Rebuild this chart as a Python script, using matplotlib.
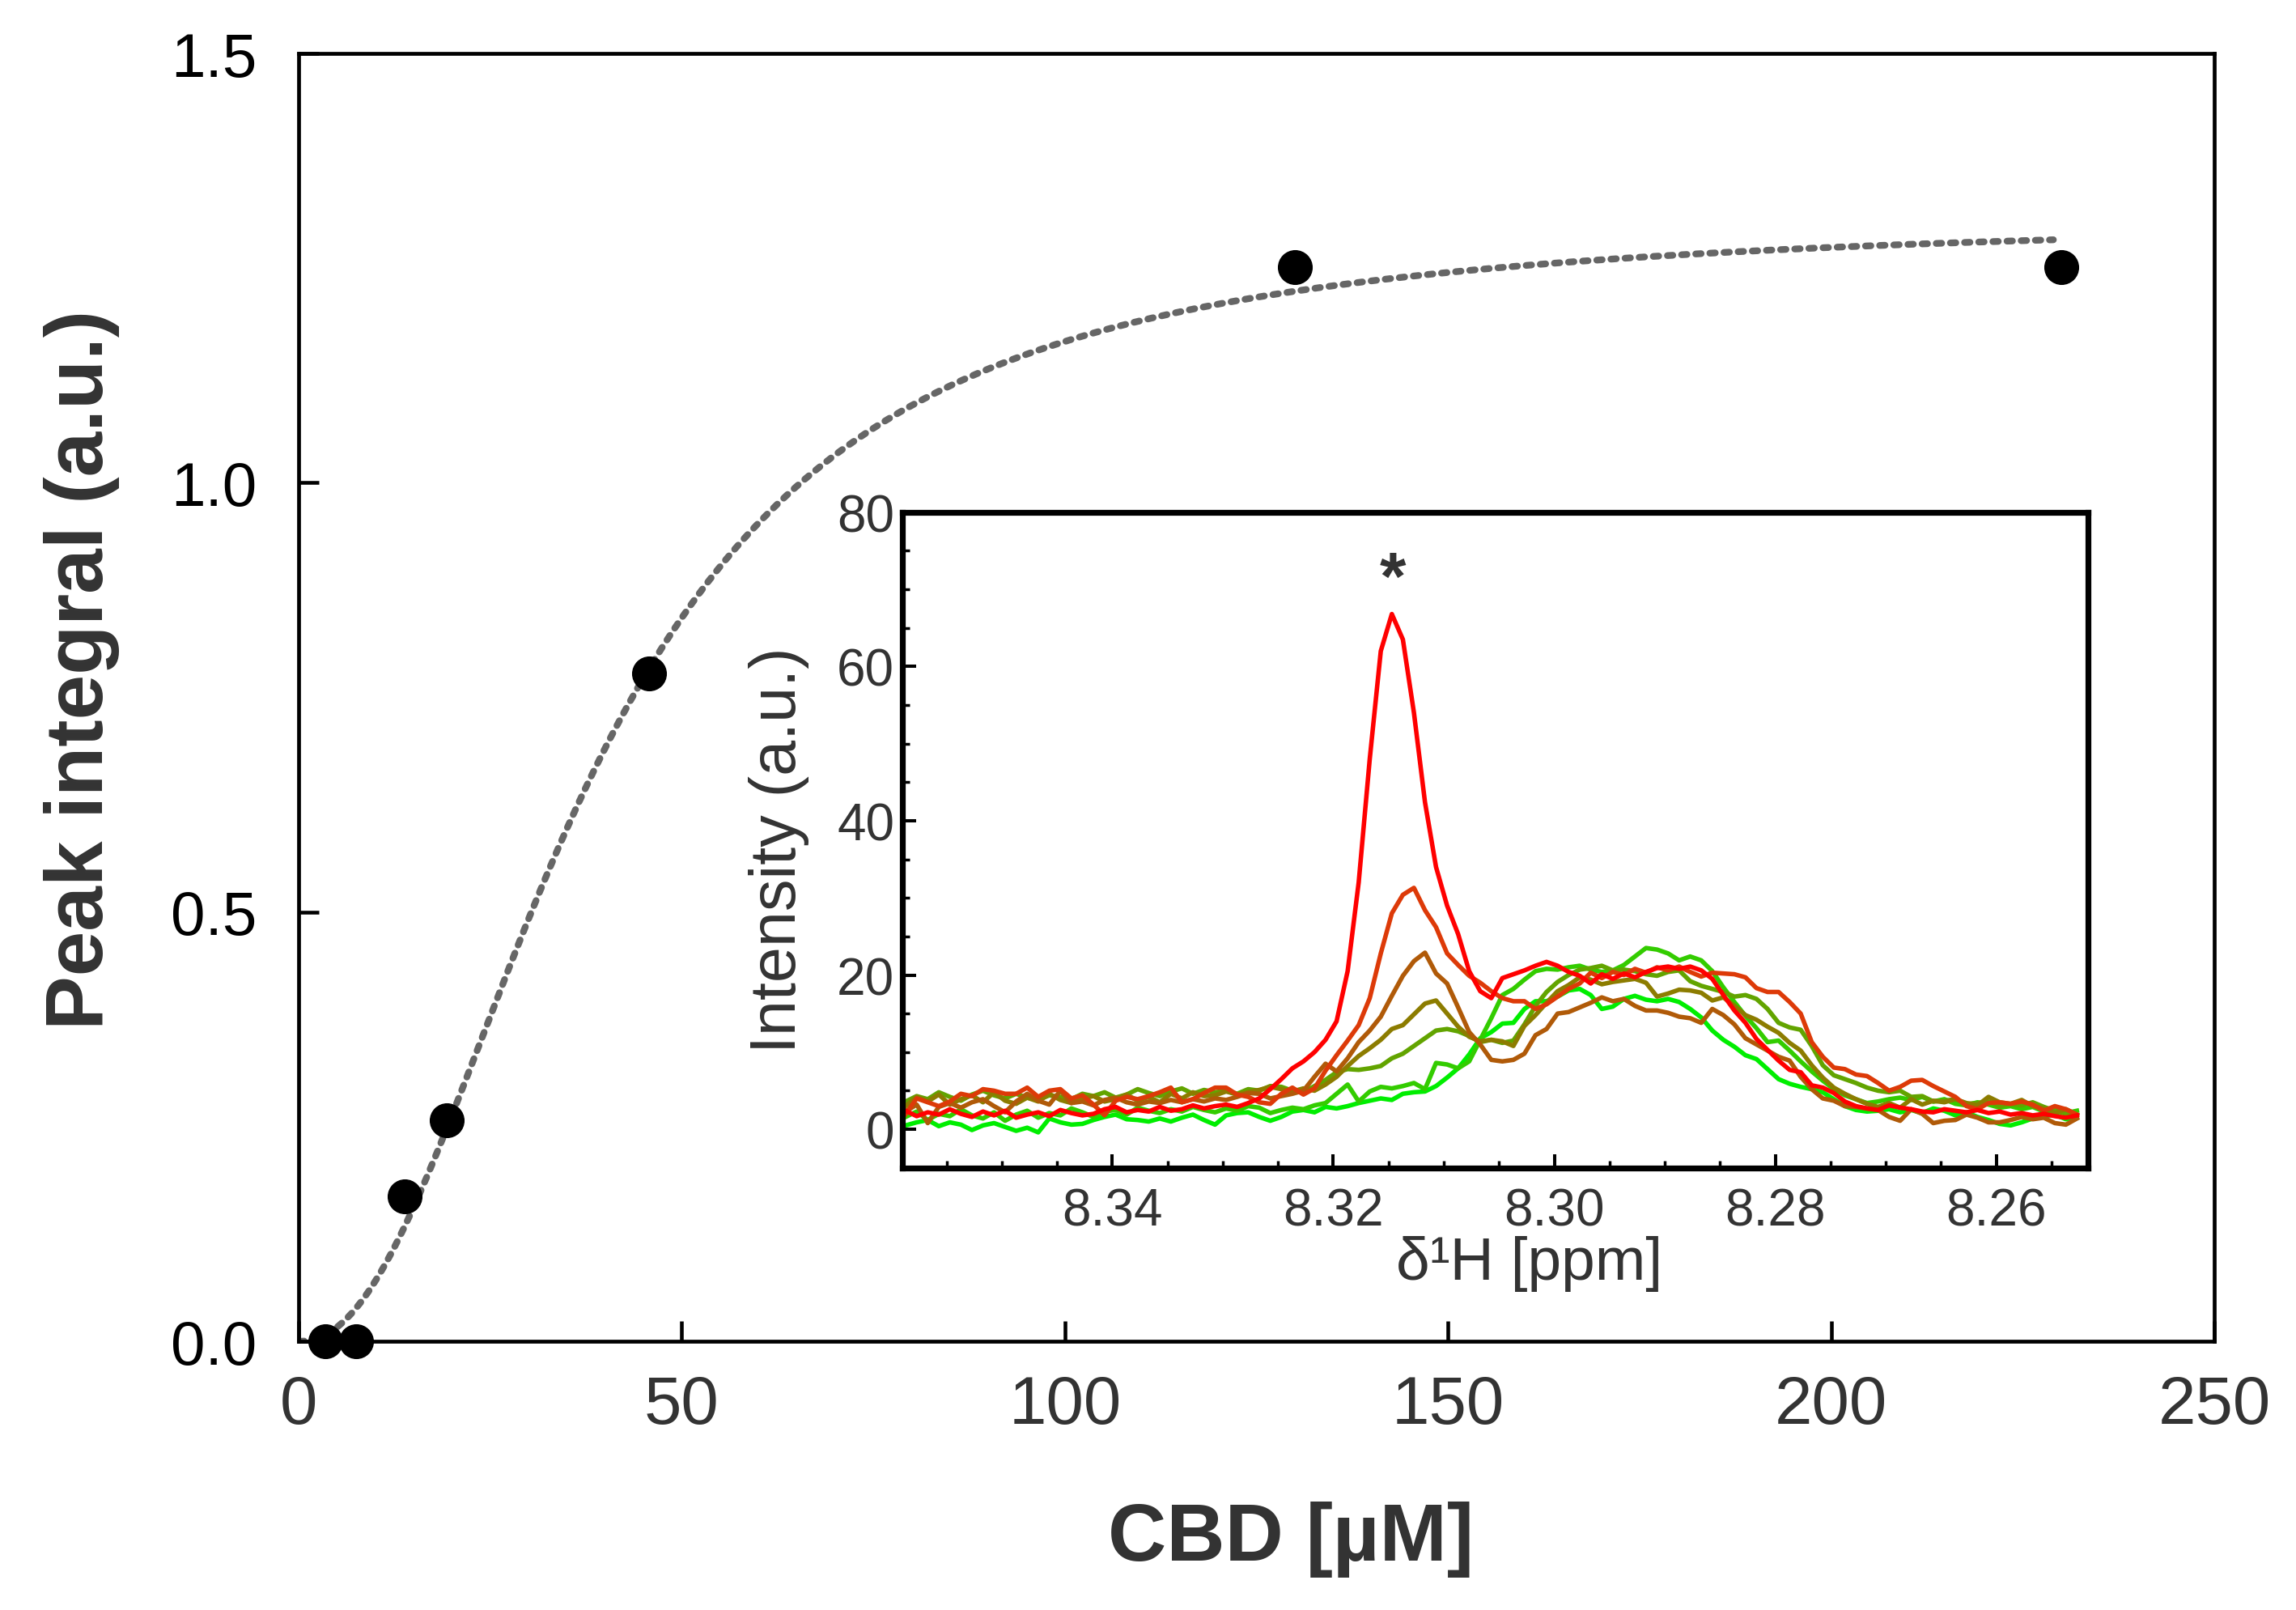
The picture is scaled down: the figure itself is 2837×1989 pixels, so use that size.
import matplotlib
matplotlib.use('Agg')
import matplotlib.pyplot as plt
import numpy as np
from matplotlib.ticker import MultipleLocator, FormatStrFormatter

plt.rcParams['font.family'] = ['Liberation Sans', 'DejaVu Sans']

# titration points (main panel)
cbd_uM = [3.5, 7.5, 13.8, 19.3, 45.7, 130.0, 230.0]
peak_integral = [0.0, 0.0, 0.169, 0.257, 0.778, 1.251, 1.251]

# Hill fit parameters
fit_vmax = 1.31
fit_k = 38.0
fit_n = 2.15
fit_xmax = 229.0

# inset spectra, sampled every 0.001 ppm from 8.3587 down
ppm = np.round(8.3587 - 0.001 * np.arange(107), 4)

spec_red = [
    2.4, 1.7, 2.2, 1.9, 2.6, 2.0, 1.6, 2.3, 1.8, 2.4,
    1.5, 1.9, 2.2, 1.7, 2.5, 2.1, 1.8, 2.0, 2.6, 2.9,
    2.2, 2.5, 2.3, 2.9, 2.4, 2.6, 3.1, 2.7, 3.0, 3.2,
    2.9, 3.4, 4.0, 5.2, 6.5, 7.9, 8.8, 10.0, 11.6, 14.0,
    20.5, 32.0, 48.0, 62.0, 66.8, 63.5, 54.0, 42.4, 34.0, 29.0,
    25.3, 20.5, 17.9, 17.0, 19.6, 20.1, 20.6, 21.2, 21.7, 21.2,
    20.4, 19.9, 18.9, 20.1, 19.5, 20.2, 19.7, 20.4, 20.9, 21.1,
    20.8, 21.1, 20.6, 19.5, 17.4, 15.4, 13.8, 11.7, 10.3, 8.9,
    7.7, 7.4, 5.7, 5.4, 4.7, 3.6, 3.0, 2.7, 2.5, 3.1,
    2.8, 2.6, 2.3, 2.2, 2.6, 2.4, 2.2, 2.5, 2.1, 2.3,
    1.9, 2.1, 1.8, 2.0, 1.7, 1.5, 1.8]
spec_redorange = [
    2.0, 4.0, 3.5, 3.0, 3.6, 4.6, 4.3, 5.2, 5.0, 4.6,
    4.6, 5.4, 4.2, 5.0, 5.2, 4.0, 4.4, 3.2, 1.8, 3.7,
    4.2, 3.9, 4.3, 4.8, 5.4, 3.5, 3.9, 4.7, 5.4, 5.4,
    4.5, 4.2, 3.5, 3.3, 4.6, 5.4, 4.5, 5.3, 7.6, 9.6,
    11.5, 13.5, 17.0, 22.8, 28.0, 30.4, 31.3, 28.4, 26.2, 22.8,
    21.3, 19.9, 19.0, 17.9, 17.0, 16.6, 16.6, 15.6, 16.2, 17.2,
    18.2, 18.9, 20.3, 19.6, 20.4, 20.0, 20.8, 20.3, 21.0, 20.6,
    21.1, 20.4, 19.8, 20.3, 20.2, 20.1, 19.7, 18.3, 17.8, 17.8,
    16.5, 15.0, 11.3, 9.4, 8.0, 7.8, 7.1, 6.9, 6.0, 5.0,
    5.5, 6.3, 6.4, 5.6, 4.9, 4.2, 3.0, 2.6, 3.4, 3.5,
    3.3, 3.6, 3.2, 2.4, 3.0, 2.6, 1.9]
spec_brown = [
    2.3, 3.2, 0.8, 2.9, 3.4, 2.8, 3.5, 3.9, 3.0, 2.2,
    3.6, 4.6, 3.7, 3.2, 5.0, 3.4, 3.6, 3.1, 3.8, 4.1,
    3.5, 3.2, 3.6, 3.4, 3.8, 3.5, 3.9, 3.6, 4.0, 3.8,
    4.2, 4.7, 4.6, 4.0, 4.3, 4.6, 5.0, 6.8, 8.5, 7.5,
    9.2, 11.3, 12.8, 14.6, 17.3, 19.9, 21.8, 22.9, 20.2, 18.9,
    15.8, 12.6, 11.0, 9.0, 8.8, 9.0, 9.8, 12.2, 13.0, 15.0,
    15.2, 15.8, 16.4, 17.1, 16.6, 16.9, 16.0, 15.4, 15.4, 15.1,
    14.6, 14.4, 13.8, 15.6, 14.8, 13.6, 11.8, 11.0, 10.2, 9.4,
    8.9, 6.8, 5.2, 4.0, 3.7, 3.0, 2.9, 2.7, 2.5, 1.6,
    1.1, 2.6, 2.0, 0.8, 1.1, 1.2, 1.9, 1.5, 0.9, 0.9,
    1.2, 1.6, 1.3, 1.5, 0.8, 0.6, 1.4]
spec_olive = [
    3.0, 4.2, 3.6, 4.5, 3.2, 3.9, 4.4, 3.5, 4.8, 3.7,
    3.3, 4.1, 3.6, 4.6, 3.8, 3.4, 4.0, 4.3, 3.6, 3.9,
    4.5, 3.7, 4.2, 3.5, 4.6, 4.0, 4.8, 4.3, 4.4, 4.9,
    4.5, 4.8, 5.1, 5.5, 5.2, 4.9, 5.3, 5.0, 5.8, 6.8,
    8.2, 9.5, 10.5, 11.6, 13.0, 13.5, 14.9, 16.3, 16.7, 15.0,
    13.3, 12.0, 11.4, 11.6, 11.4, 10.8, 13.4, 14.8, 16.4, 17.9,
    18.7, 19.7, 19.4, 18.8, 19.1, 19.3, 19.5, 19.0, 17.2, 17.6,
    18.1, 18.0, 17.7, 16.7, 17.1, 16.0, 14.8, 14.2, 13.3, 12.5,
    11.2, 10.2, 8.3, 6.7, 5.4, 4.6, 3.9, 3.3, 2.9, 3.4,
    2.8, 3.9, 3.2, 3.7, 3.5, 3.9, 3.4, 3.1, 4.2, 3.5,
    3.3, 3.8, 3.0, 2.7, 2.1, 2.6, 1.9]
spec_yellowgreen = [
    3.6, 4.3, 3.9, 4.8, 4.2, 3.7, 4.5, 5.0, 4.4, 4.0,
    4.6, 4.1, 3.8, 4.4, 4.2, 3.9, 4.6, 4.3, 4.8, 4.1,
    4.5, 5.2, 4.7, 4.3, 4.9, 5.3, 4.6, 5.1, 4.8, 5.0,
    4.6, 5.2, 5.0, 5.6, 5.5, 5.0, 4.8, 5.6, 6.4, 7.4,
    7.8, 7.7, 7.9, 8.2, 9.2, 9.8, 10.8, 11.8, 12.8, 13.0,
    12.7, 12.1, 11.3, 11.6, 11.2, 11.5, 13.6, 16.0, 17.8, 19.1,
    20.0, 20.7, 20.9, 21.2, 20.6, 20.7, 20.5, 20.1, 19.9, 20.4,
    20.6, 19.2, 18.6, 18.2, 17.8, 17.2, 17.4, 16.9, 15.6, 13.8,
    13.2, 12.9, 10.8, 8.3, 7.0, 6.5, 6.0, 5.4, 5.0, 4.8,
    5.0, 4.2, 4.3, 3.6, 3.7, 3.9, 3.3, 3.4, 3.6, 3.0,
    3.3, 3.1, 3.5, 2.9, 2.4, 2.0, 1.7]
spec_green = [
    1.6, 2.3, 1.2, 2.0, 1.7, 2.6, 1.8, 1.4, 2.2, 1.1,
    1.9, 2.4, 1.5, 2.1, 1.8, 2.7, 2.2, 1.6, 2.3, 2.5,
    1.9, 2.8, 2.4, 2.1, 2.6, 2.3, 2.9, 2.5, 2.2, 2.7,
    2.4, 3.0, 2.8, 2.1, 2.5, 2.8, 2.6, 3.1, 3.4, 4.6,
    5.8, 3.6, 4.9, 5.5, 5.3, 5.6, 6.0, 5.2, 8.6, 8.4,
    7.9, 8.8, 11.6, 14.4, 17.4, 18.2, 19.4, 20.5, 20.8, 20.7,
    21.0, 21.2, 20.7, 20.4, 20.6, 21.3, 22.4, 23.5, 23.3, 22.8,
    21.9, 22.4, 21.9, 20.5, 18.4, 16.5, 14.7, 13.1, 11.3, 11.5,
    10.2, 8.8, 7.5, 6.3, 5.2, 4.4, 3.9, 3.4, 3.6, 3.9,
    4.1, 3.8, 4.2, 3.6, 3.9, 3.3, 3.1, 3.5, 3.2, 2.8,
    3.0, 2.6, 2.9, 2.3, 2.5, 2.1, 2.4]
spec_brightgreen = [
    0.5, 0.9, 1.2, 0.4, 0.9, 0.6, -0.1, 0.5, 0.8, 0.3,
    -0.2, 0.2, -0.4, 1.4, 0.9, 0.6, 0.7, 1.2, 1.6, 1.9,
    1.3, 1.2, 1.0, 1.4, 1.0, 1.5, 1.9, 1.2, 0.6, 1.8,
    2.1, 2.2, 1.6, 1.1, 1.6, 2.3, 2.5, 2.2, 2.9, 2.7,
    3.0, 3.4, 3.7, 4.0, 3.8, 4.6, 4.8, 4.9, 5.6, 6.7,
    7.9, 9.7, 11.8, 12.6, 13.7, 13.8, 15.6, 16.6, 16.6, 17.2,
    18.0, 18.2, 17.4, 15.6, 15.9, 16.9, 17.3, 16.8, 16.6, 16.9,
    16.5, 15.6, 14.5, 12.8, 11.6, 10.7, 9.6, 9.1, 7.8, 6.5,
    5.9, 5.5, 5.2, 4.8, 3.9, 3.0, 2.5, 2.3, 2.4, 2.6,
    2.2, 2.5, 2.1, 2.7, 2.4, 1.8, 2.2, 1.6, 1.2, 0.7,
    0.5, 0.9, 1.4, 1.7, 1.9, 1.3, 1.5]

# drawn green first so red ends on top
spectra = [spec_brightgreen, spec_green, spec_yellowgreen, spec_olive,
           spec_brown, spec_redorange, spec_red]
spec_colors = ['#00ee00', '#33cc00', '#62a400', '#8c7c00',
               '#b05a08', '#dd3a08', '#ff0000']

fig = plt.figure(figsize=(28.37, 19.90), dpi=100)
fig.patch.set_facecolor('white')

# main panel
ax = fig.add_axes([0.1301, 0.1668, 0.8343, 0.7995])
xfit = np.linspace(0, fit_xmax, 400)
yfit = fit_vmax * xfit**fit_n / (fit_k**fit_n + xfit**fit_n)
ax.plot(xfit, yfit, color='#666666', lw=6, dashes=(0.8, 1.3),
        dash_capstyle='round', zorder=2)
ax.plot(cbd_uM, peak_integral, 'o', color='black', ms=30, zorder=3,
        clip_on=False)
ax.set_xlim(0, 250)
ax.set_ylim(0, 1.5)
ax.set_xticks([0, 50, 100, 150, 200, 250])
ax.set_yticks([0.0, 0.5, 1.0, 1.5])
ax.yaxis.set_major_formatter(FormatStrFormatter('%.1f'))
ax.tick_params(direction='in', length=18, width=3.3,
               top=False, right=False)
ax.tick_params(axis='x', pad=29, labelsize=60, labelcolor='#333333')
ax.tick_params(axis='y', pad=37, labelsize=55, labelcolor='black')
for s in ax.spines.values():
    s.set_linewidth(3.4)
ax.set_xlabel('CBD [µM]', fontsize=72, fontweight='bold', color='#333333')
ax.xaxis.set_label_coords(0.518, -0.124)
ax.set_ylabel('Peak integral (a.u.)', fontsize=72, fontweight='bold',
              color='#333333')
ax.yaxis.set_label_coords(-0.0934, 0.522)

# inset spectra
ax2 = fig.add_axes([0.3930, 0.2745, 0.5164, 0.4070])
for trace, col in zip(spectra, spec_colors):
    ax2.plot(ppm, trace, color=col, lw=4.0)
ax2.text(8.3146, 68.8, '*', fontsize=60, fontweight='bold', color='#333333',
         ha='center', va='baseline')
ax2.set_xlim(8.359, 8.2517)
ax2.set_ylim(-5, 80)
ax2.xaxis.set_major_locator(MultipleLocator(0.02))
ax2.xaxis.set_minor_locator(MultipleLocator(0.005))
ax2.xaxis.set_major_formatter(FormatStrFormatter('%.2f'))
ax2.yaxis.set_major_locator(MultipleLocator(20))
ax2.yaxis.set_minor_locator(MultipleLocator(5))
ax2.tick_params(which='major', direction='in', length=12, width=2.9,
                labelsize=46, labelcolor='#333333', top=False, right=False)
ax2.tick_params(which='minor', direction='in', length=6.5, width=2.5,
                top=False, right=False)
ax2.tick_params(axis='x', which='major', pad=17)
ax2.tick_params(axis='y', which='major', pad=7)
for s in ax2.spines.values():
    s.set_linewidth(5.2)
ax2.set_xlabel('δ¹H [ppm]', fontsize=54, color='#333333')
ax2.xaxis.set_label_coords(0.529, -0.1026)
ax2.set_ylabel('Intensity (a.u.)', fontsize=57, color='#333333')
ax2.yaxis.set_label_coords(-0.0785, 0.486)

fig.savefig('out.png', dpi=100)
